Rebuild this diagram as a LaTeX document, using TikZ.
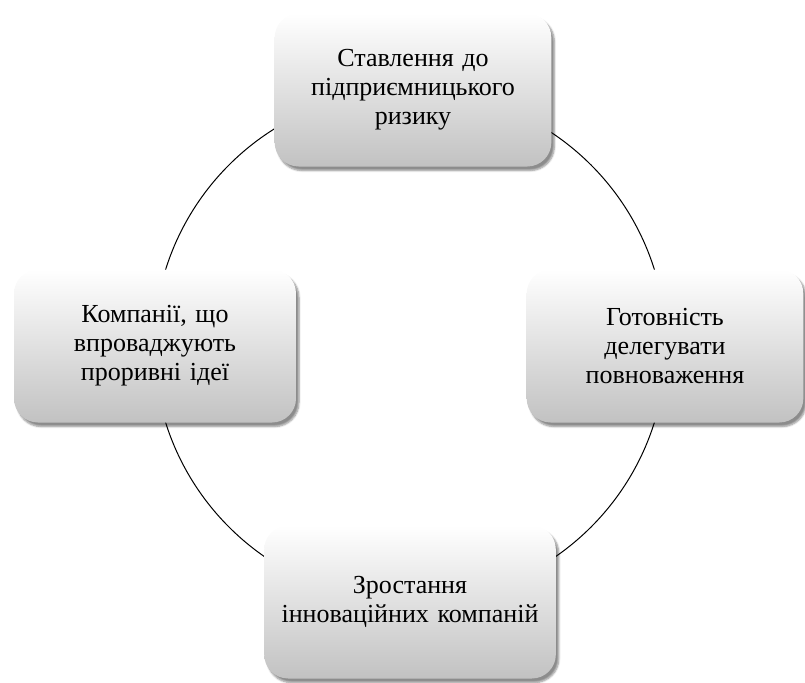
\documentclass[tikz,border=0pt]{standalone}
\usepackage{fontspec}
\setmainfont{Liberation Serif}
\usetikzlibrary{shadows.blur}
\begin{document}
\begin{tikzpicture}[x=1pt,y=-1pt,
  box/.style={rounded corners=24pt, minimum width=275pt, minimum height=153pt,
    top color=white, bottom color=black!24, align=center, text width=270pt,
    font=\fontsize{26}{29}\selectfont,
    blur shadow={shadow xshift=3pt, shadow yshift=-4pt, shadow blur steps=6, shadow opacity=45}},
  ring/.style={draw=black, line width=1pt}]
\useasboundingbox (0,0) rectangle (805,682);
\coordinate (c) at (410,346);
\draw[ring] (c) circle (256);
\node[box] (top) at (413,90) {Ставлення до\\підприємницького\\ризику};
\node[box] (right) at (665,346) {Готовність\\делегувати\\повноваження};
\node[box, minimum width=282pt] (left) at (155,346) {Компанії, що\\впроваджують\\проривні ідеї};
\node[box, minimum width=288pt, text width=285pt] (bottom) at (410,602) {Зростання\\інноваційних компаній};
\end{tikzpicture}
\end{document}
